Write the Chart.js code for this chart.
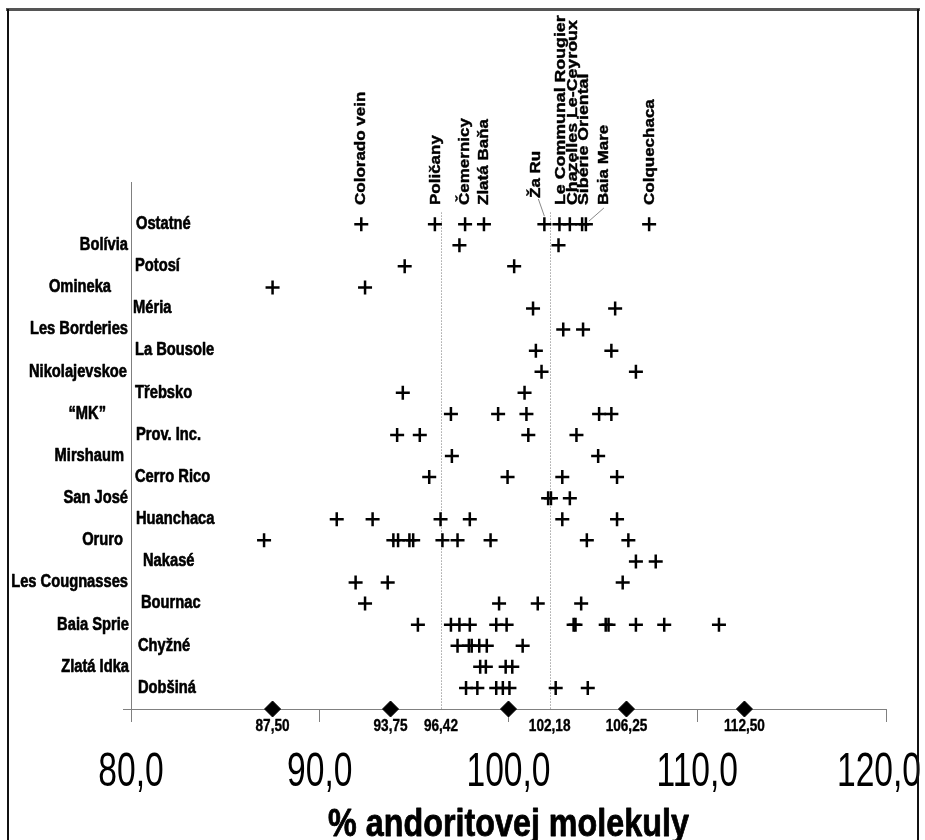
<!DOCTYPE html>
<html><head><meta charset="utf-8">
<script src="https://cdn.jsdelivr.net/npm/chart.js@4/dist/chart.umd.min.js"></script>
<style>html,body{margin:0;padding:0;background:#fff}canvas{display:block}</style>
</head><body>
<canvas id="c" width="925" height="840"></canvas>
<script>
// ---------- DATA ----------
const rowLabels = ['Ostatné','Bolívia','Potosí','Omineka','Méria','Les Borderies','La Bousole','Nikolajevskoe','Třebsko','“MK”','Prov. Inc.','Mirshaum','Cerro Rico','San José','Huanchaca','Oruro','Nakasé','Les Cougnasses','Bournac','Baia Sprie','Chyžné','Zlatá Idka','Dobšiná'];
const ostatne       = [92.2, 96.1, 97.7, 98.7, 101.9, 102.7, 103.25, 103.9, 104.1, 107.45];
const ostatneNames  = ['Colorado vein','Poličany','Čemernicy','Zlatá Baňa','Ža Ru','Le Communal Rougier','Chazelles Le-Ceyroux','Sibérie Oriental','Baia Mare','Colquechaca'];
const bolivia       = [97.4, 102.65];
const potosi        = [94.5, 100.3];
const omineka       = [87.5, 92.4];
const meria         = [101.3, 105.65];
const lesBorderies  = [102.9, 103.95];
const laBousole     = [101.45, 105.45];
const nikolajevskoe = [101.75, 106.75];
const trebsko       = [94.4, 100.85];
const mk            = [96.95, 99.45, 100.95, 104.8, 105.45];
const provInc       = [94.1, 95.3, 101.05, 103.6];
const mirshaum      = [97.0, 104.75];
const cerroRico     = [95.8, 99.95, 102.85, 105.75];
const sanJose       = [102.1, 102.25, 103.25];
const huanchaca     = [90.9, 92.8, 96.4, 97.95, 102.85, 105.75];
const oruro         = [87.05, 93.9, 94.15, 94.75, 94.95, 96.5, 97.3, 99.05, 104.15, 106.35];
const nakase        = [106.75, 107.8];
const lesCougnasses = [91.9, 93.6, 106.05];
const bournac       = [92.4, 99.5, 101.55, 103.85];
const baiaSprie     = [95.2, 96.95, 97.4, 97.95, 99.35, 99.9, 103.45, 103.55, 105.15, 105.3, 106.75, 108.25, 111.15];
const chyzne        = [97.3, 97.9, 98.05, 98.45, 98.85, 100.75];
const zlataIdka     = [98.5, 98.8, 99.85, 100.2];
const dobsina       = [97.75, 98.35, 99.35, 99.7, 100.05, 102.5, 104.2];
const rowValues = [ostatne, bolivia, potosi, omineka, meria, lesBorderies, laBousole, nikolajevskoe, trebsko, mk, provInc, mirshaum, cerroRico, sanJose, huanchaca, oruro, nakase, lesCougnasses, bournac, baiaSprie, chyzne, zlataIdka, dobsina];

const diamondValues   = [87.5, 93.75, 100.0, 106.25, 112.5];
const boundaryValues  = [96.42, 102.18];
const axisMarkValues  = [87.5, 93.75, 96.42, 102.18, 106.25, 112.5];
const axisMarkLabels  = ['87,50','93,75','96,42','102,18','106,25','112,50'];
const xTickValues     = [80, 90, 100, 110, 120];
const xTickLabels     = ['80,0','90,0','100,0','110,0','120,0'];
const xTitle          = '% andoritovej molekuly';

// ---------- build points ----------
const crossPoints = [];
rowValues.forEach((vals, r) => vals.forEach(v => crossPoints.push({x: v, y: r})));
const AXIS_ROW = rowLabels.length;           // row index of the axis line
const diamondPoints = diamondValues.map(v => ({x: v, y: AXIS_ROW}));

// ---------- layout / style (not data) ----------
const FONT = '"Liberation Sans", Arial, sans-serif';
const innerIndent = {'Ostatné':1,'Méria':-2,'Prov. Inc.':1,'Huanchaca':1,'Nakasé':8,'Bournac':6,'Chyžné':3,'Dobšiná':3};
const outerShift  = {'Omineka':-17,'“MK”':-22,'Mirshaum':-4,'Oruro':-5,'Nikolajevskoe':-1,'Baia Sprie':1,'Zlatá Idka':1};
const topLabelDx  = [0, 1, 0, 0, -8, 1, 3, 2, 18, 1];
const topLabelY   = [205, 205, 205, 205, 198, 205, 205, 205, 205, 205];
const tickLabelDx = [0, 0, 0, 0, -7];

function txt(ctx, s, x, y, font, align, sx, baseline, rot, heavy) {
  ctx.save();
  ctx.translate(x, y);
  ctx.scale(sx, 1);
  if (rot) ctx.rotate(rot);
  ctx.font = font;
  ctx.textAlign = align;
  ctx.textBaseline = baseline || 'middle';
  ctx.fillStyle = '#000';
  ctx.fillText(s, 0, 0);
  if (heavy) {
    ctx.strokeStyle = '#000';
    ctx.lineWidth = heavy;
    ctx.lineJoin = 'round';
    ctx.strokeText(s, 0, 0);
  }
  ctx.restore();
}

const decor = {
  id: 'decor',
  beforeDraw(chart) {
    const ctx = chart.ctx;
    ctx.save();
    ctx.fillStyle = '#fff';
    ctx.fillRect(0, 0, chart.width, chart.height);
    const xs = chart.scales.x, ys = chart.scales.y;
    ctx.strokeStyle = '#777';
    ctx.lineWidth = 1;
    ctx.setLineDash([1, 2]);
    boundaryValues.forEach(v => {
      const px = Math.round(xs.getPixelForValue(v)) + 0.5;
      ctx.beginPath();
      ctx.moveTo(px, ys.getPixelForValue(-0.55));
      ctx.lineTo(px, ys.getPixelForValue(AXIS_ROW));
      ctx.stroke();
    });
    ctx.setLineDash([]);
    ctx.restore();
  },
  afterDraw(chart) {
    const ctx = chart.ctx;
    const xs = chart.scales.x, ys = chart.scales.y;
    const left = xs.left;
    rowLabels.forEach((s, r) => {
      const py = ys.getPixelForValue(r);
      if (r % 2 === 0) {
        txt(ctx, s, left + 4 + (innerIndent[s] || 0), py, 'bold 17.5px ' + FONT, 'left', 0.84, 'middle', 0, 0.6);
      } else {
        txt(ctx, s, left - 3 + (outerShift[s] || 0), py, 'bold 17.5px ' + FONT, 'right', 0.84, 'middle', 0, 0.6);
      }
    });
    ostatneNames.forEach((s, i) => {
      const px = xs.getPixelForValue(ostatne[i]) + topLabelDx[i];
      const fs = (i >= 5 && i <= 7) ? 17.8 : 17;
      txt(ctx, s, px, topLabelY[i], 'bold ' + fs + 'px ' + FONT, 'left', 0.84, 'middle', -Math.PI / 2, 0.5);
    });
    ctx.save();
    ctx.strokeStyle = '#888';
    ctx.lineWidth = 1;
    const y0 = ys.getPixelForValue(0);
    let dx = xs.getPixelForValue(ostatne[4]);
    ctx.beginPath(); ctx.moveTo(dx + topLabelDx[4] + 2, 199); ctx.lineTo(dx, y0 - 8); ctx.stroke();
    dx = xs.getPixelForValue(ostatne[8]);
    ctx.beginPath(); ctx.moveTo(dx + topLabelDx[8], 208); ctx.lineTo(dx + 3, y0 - 3); ctx.stroke();
    ctx.restore();
    const axisY = ys.getPixelForValue(AXIS_ROW);
    axisMarkValues.forEach((v, i) => {
      txt(ctx, axisMarkLabels[i], xs.getPixelForValue(v), axisY + 17, 'bold 17px ' + FONT, 'center', 0.8, 'middle', 0, 0.4);
    });
    xTickValues.forEach((v, i) => {
      txt(ctx, xTickLabels[i], xs.getPixelForValue(v) + tickLabelDx[i], axisY + 64, '48px ' + FONT, 'center', 0.7);
    });
    txt(ctx, xTitle, xs.getPixelForValue(100), 836, 'bold 38px ' + FONT, 'center', 0.85, 'alphabetic', 0, 0.8);
    ctx.save();
    ctx.strokeStyle = '#555';
    ctx.lineWidth = 3;
    ctx.beginPath(); ctx.moveTo(6, 9.5); ctx.lineTo(920, 9.5); ctx.stroke();
    ctx.strokeStyle = '#111';
    ctx.lineWidth = 2;
    ctx.beginPath(); ctx.moveTo(8, 9); ctx.lineTo(8, 840); ctx.stroke();
    ctx.beginPath(); ctx.moveTo(918, 9); ctx.lineTo(918, 840); ctx.stroke();
    ctx.restore();
  }
};

new Chart(document.getElementById('c'), {
  type: 'scatter',
  data: {
    datasets: [
      { data: crossPoints, pointStyle: 'cross', pointRadius: 7, pointHoverRadius: 7,
        borderColor: '#000', backgroundColor: '#000', pointBorderWidth: 2.5, clip: false },
      { data: diamondPoints, pointStyle: 'rectRot', pointRadius: 8, pointHoverRadius: 8,
        borderColor: '#000', backgroundColor: '#000', pointBorderWidth: 1, clip: false }
    ]
  },
  options: {
    responsive: false,
    animation: false,
    devicePixelRatio: 1,
    events: [],
    layout: { padding: { left: 123, right: 39, top: 182, bottom: 118 } },
    plugins: { legend: { display: false }, tooltip: { enabled: false } },
    scales: {
      x: {
        type: 'linear', min: 80, max: 120,
        afterBuildTicks: a => { a.ticks = xTickValues.map(v => ({value: v})); },
        ticks: { display: false },
        grid: { drawOnChartArea: false, drawTicks: true, tickLength: 13, color: '#808080', lineWidth: 1 },
        border: { display: true, color: '#808080', width: 1 }
      },
      y: {
        type: 'linear', min: -2, max: AXIS_ROW, reverse: true,
        afterBuildTicks: a => { a.ticks = [{value: AXIS_ROW}]; },
        ticks: { display: false },
        grid: { drawOnChartArea: false, drawTicks: true, tickLength: 8, color: '#808080', lineWidth: 1 },
        border: { display: true, color: '#808080', width: 1 }
      }
    }
  },
  plugins: [decor]
});
</script>
</body></html>
